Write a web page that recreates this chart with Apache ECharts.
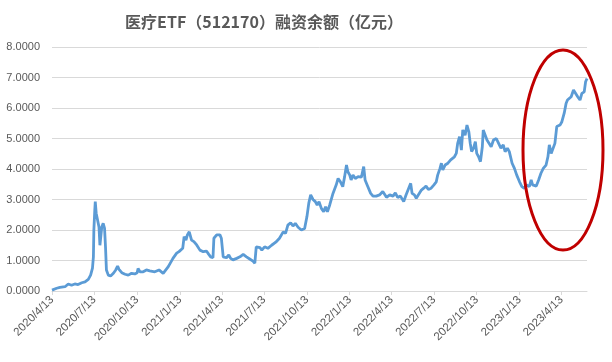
<!DOCTYPE html>
<html>
<head>
<meta charset="utf-8">
<script src="https://cdn.jsdelivr.net/npm/echarts@6/dist/echarts.min.js"></script>
<style>html,body{margin:0;padding:0;background:#fff;}#c{width:612px;height:362px;}</style>
</head>
<body>
<div id="c"></div>
<script>
// Start date of the series; day offsets below are days since this date
const START = [2020, 4, 13];
const dayOffsets = [0,10,17,28,35,42,49,56,64,71,78,83,87,89,90,92,93,95,99,101,103,105,107,110,113,115,117,121,126,132,137,141,144,150,157,164,171,178,183,185,189,196,203,210,221,230,239,250,260,268,273,277,281,284,288,291,295,297,300,305,311,318,325,332,337,341,346,348,354,361,364,368,375,380,384,389,397,404,411,418,425,432,436,439,447,451,457,464,472,481,489,497,502,507,513,518,523,529,536,543,548,552,556,561,566,570,574,579,584,588,592,597,604,611,615,620,625,629,633,636,640,643,647,652,658,665,670,673,679,685,690,697,704,711,719,726,733,738,743,749,756,761,765,771,774,779,783,786,794,799,804,809,815,821,826,829,834,837,840,845,851,857,861,865,869,872,876,880,883,888,892,896,899,902,906,910,913,917,921,925,927,931,935,939,944,949,955,960,965,970,974,979,983,989,994,999,1005,1010,1015,1020,1026,1030,1033,1041,1046,1051,1056,1062,1066,1069,1073,1076,1081,1085,1088,1092,1096,1101,1105,1108,1112,1116,1121,1125,1130,1135,1139,1144,1147,1150];
const balance = [0.03,0.09,0.12,0.14,0.23,0.19,0.23,0.21,0.27,0.30,0.38,0.52,0.75,1.12,2.00,2.66,2.93,2.55,2.52,2.10,1.50,1.50,2.10,2.22,2.05,1.45,0.69,0.52,0.49,0.58,0.69,0.82,0.71,0.60,0.55,0.52,0.58,0.56,0.60,0.74,0.63,0.63,0.69,0.66,0.63,0.69,0.58,0.80,1.07,1.24,1.29,1.24,1.40,1.78,1.67,1.84,1.94,2.00,1.67,1.62,1.51,1.34,1.29,1.31,1.20,1.12,1.09,1.73,1.84,1.84,1.73,1.12,1.09,1.18,1.07,1.02,1.07,1.12,1.20,1.12,1.05,0.98,0.91,1.45,1.42,1.34,1.45,1.40,1.50,1.60,1.73,1.94,1.89,2.16,2.24,2.13,2.22,2.09,2.00,2.05,2.44,2.88,3.15,3.00,2.93,2.82,2.93,2.71,2.60,2.76,2.60,2.82,3.20,3.48,3.69,3.58,3.42,3.75,4.13,3.91,3.80,3.64,3.80,3.69,3.75,3.73,4.08,3.64,3.42,3.20,3.11,3.11,3.15,3.26,3.07,3.15,3.11,3.22,3.07,3.11,2.93,3.15,3.09,3.53,3.20,3.15,3.04,3.07,3.31,3.37,3.44,3.33,3.37,3.48,3.58,3.80,4.02,4.19,3.97,4.13,4.19,4.30,4.35,4.40,4.51,4.84,5.06,4.62,5.28,5.11,5.44,5.22,4.84,4.57,4.68,4.90,4.51,4.40,4.24,4.73,5.28,5.33,4.95,4.95,4.73,4.95,5.00,4.84,4.68,4.79,4.57,4.68,4.57,4.19,4.02,3.80,3.58,3.42,3.37,3.48,3.42,3.64,3.48,3.44,3.64,3.86,4.02,4.13,4.40,4.79,4.51,4.57,4.84,5.39,5.33,5.44,5.55,5.83,6.15,6.26,6.32,6.37,6.59,6.53,6.37,6.26,6.48,6.53,6.86,6.97];
// Tick label dates (year, month, day)
const tickDates = [[2020,4,13],[2020,7,13],[2020,10,13],[2021,1,13],[2021,4,13],[2021,7,13],[2021,10,13],[2022,1,13],[2022,4,13],[2022,7,13],[2022,10,13],[2023,1,13],[2023,4,13]];
const yTicks = [0,1,2,3,4,5,6,7,8];
const titleText = '医疗ETF（512170）融资余额（亿元）';

const DAY = 86400000;
const startUTC = Date.UTC(START[0], START[1]-1, START[2]);
const data = dayOffsets.map((d, i) => [d, balance[i]]);
const tickValues = tickDates.map(t => Math.round((Date.UTC(t[0], t[1]-1, t[2]) - startUTC) / DAY));
const fmtDate = v => { const d = new Date(startUTC + Math.round(v) * DAY); return d.getUTCFullYear() + '/' + (d.getUTCMonth()+1) + '/' + d.getUTCDate(); };

const chart = echarts.init(document.getElementById('c'), null, {renderer: 'canvas'});
chart.setOption({
  backgroundColor: '#fff',
  animation: false,
  title: {
    text: titleText,
    left: 259, top: 9, textAlign: 'center',
    textStyle: {fontFamily: 'Noto Sans CJK SC', fontSize: 16, fontWeight: 'bold', color: '#595959'}
  },
  grid: {left: 52, right: 25, top: 47, bottom: 71, containLabel: false},
  xAxis: {
    type: 'value',
    min: dayOffsets[0],
    max: dayOffsets[dayOffsets.length-1],
    axisLine: {show: true, onZero: false, lineStyle: {color: '#d9d9d9', width: 1}},
    axisTick: {show: true, customValues: tickValues, length: 4, lineStyle: {color: '#d9d9d9'}},
    splitLine: {show: false},
    axisLabel: {
      customValues: tickValues,
      rotate: 45, margin: 7,
      fontFamily: 'Liberation Sans', fontSize: 11.5, color: '#595959',
      formatter: fmtDate
    }
  },
  yAxis: {
    type: 'value', min: yTicks[0], max: yTicks[yTicks.length-1], interval: 1,
    axisLine: {show: false}, axisTick: {show: false},
    splitLine: {lineStyle: {color: '#d9d9d9', width: 1}},
    axisLabel: {fontFamily: 'Liberation Sans', fontSize: 11, color: '#595959', margin: 12,
      formatter: v => v.toFixed(4)}
  },
  series: [{
    type: 'line', data: data, showSymbol: false, symbol: 'none',
    lineStyle: {color: '#5B9BD5', width: 2.8}, z: 3
  }],
  graphic: [{
    type: 'ellipse', shape: {cx: 563, cy: 150, rx: 40, ry: 100},
    style: {fill: 'none', stroke: '#C00000', lineWidth: 3}, z: 10
  }]
});
</script>
</body>
</html>
